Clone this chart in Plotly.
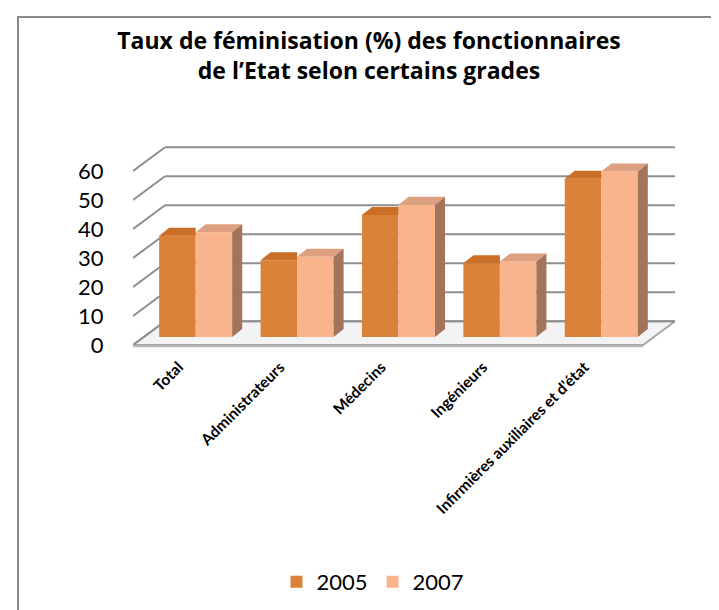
import plotly.graph_objects as go

# ---------------- data ----------------
categories = ["Total", "Administrateurs", "Médecins", "Ingénieurs",
              "Infirmières auxiliaires et d'état"]
series_names = ["2005", "2007"]
values_2005 = [34.9, 26.5, 42.1, 25.4, 54.6]
values_2007 = [36.1, 27.7, 45.6, 26.0, 57.1]
y_ticks = [0, 10, 20, 30, 40, 50, 60]
title_text = "Taux de féminisation (%) des fonctionnaires<br>de l’Etat selon certains grades"

# ---------------- style / pseudo-3D projection ----------------
FRONT = ["#DA823A", "#F9B48D"]
TOP = ["#C96F28", "#DDA080"]
SIDE = ["#A8683E", "#A37459"]
GRID = "#8E8E8E"
FONT = "Lato"
TITLE_FONT = "Open Sans"

WALL_DX, WALL_DY = 0.316, 8.2      # depth of the back wall (category units, value units)
OFF_DX, OFF_DY = 0.118, 2.76       # position of the bar fronts inside the depth
BAR_DX, BAR_DY = 0.099, 2.76       # depth of each bar
BAR_W = 0.36
LABEL_SHIFT = -0.05                # category labels sit slightly left of the bar pairs
FLOOR_X = [-0.5, 4.53]
X_RANGE = [-0.5, 4.845]
Y_RANGE = [-1.03, 71.38]

W, H = 719, 610
M_L, M_R, M_T, M_B = 125, 52, 130, 270

fig = go.Figure()

# ---------------- walls, floor and grid (drawn below the bars) ----------------
shapes = []
fx0, fx1 = FLOOR_X
floor_path = (f"M {fx0},0 L {fx1},0 L {fx1 + WALL_DX},{WALL_DY} "
              f"L {fx0 + WALL_DX},{WALL_DY} Z")
shapes.append(dict(type="path", path=floor_path, xref="x", yref="y", layer="below",
                   fillcolor="#F3F3F3", line=dict(color="#A6A6A6", width=2)))
for v in y_ticks:
    shapes.append(dict(type="line", xref="x", yref="y", layer="below",
                       x0=fx0 + WALL_DX, x1=X_RANGE[1], y0=v + WALL_DY, y1=v + WALL_DY,
                       line=dict(color=GRID, width=2)))
    shapes.append(dict(type="line", xref="x", yref="y", layer="below",
                       x0=fx0, x1=fx0 + WALL_DX, y0=v, y1=v + WALL_DY,
                       line=dict(color=GRID, width=2)))
# front edge of the floor (thickness)
shapes.append(dict(type="line", xref="x", yref="y", layer="below",
                   x0=fx0, x1=fx1, y0=-0.4, y1=-0.4,
                   line=dict(color="#B8B8B8", width=2)))

# outer chart frame
def px_to_paper_x(px):
    return (px - M_L) / (W - M_L - M_R)

def px_to_paper_y(py):
    return (H - M_B - py) / (H - M_T - M_B)

shapes.append(dict(type="rect", xref="paper", yref="paper", layer="above",
                   x0=px_to_paper_x(10), x1=px_to_paper_x(712),
                   y0=px_to_paper_y(608), y1=px_to_paper_y(9),
                   line=dict(color="#8A8A8A", width=2), fillcolor="rgba(0,0,0,0)"))

# ---------------- bars ----------------
all_values = [values_2005, values_2007]
for s, (name, vals) in enumerate(zip(series_names, all_values)):
    xs = [i + OFF_DX - BAR_W / 2 + s * BAR_W for i in range(len(categories))]
    fig.add_trace(go.Bar(
        x=xs, y=vals, base=OFF_DY, width=BAR_W, name=name,
        marker=dict(color=FRONT[s], line=dict(width=0)),
        customdata=categories,
        hovertemplate="%{customdata}<br>" + name + " : %{y}<extra></extra>",
    ))

for s, vals in enumerate(all_values):
    tx, ty, sx, sy = [], [], [], []
    for i, v in enumerate(vals):
        xl = i + OFF_DX - BAR_W + s * BAR_W
        xr = xl + BAR_W
        b = OFF_DY
        t = OFF_DY + v
        if s == 0:
            # top face clipped where the neighbouring bar hides it
            tx += [xl, xr, xr, xl + BAR_DX, xl, None]
            ty += [t, t, t + BAR_DY, t + BAR_DY, t, None]
        else:
            tx += [xl, xr, xr + BAR_DX, xl + BAR_DX, xl, None]
            ty += [t, t, t + BAR_DY, t + BAR_DY, t, None]
            sx += [xr, xr + BAR_DX, xr + BAR_DX, xr, xr, None]
            sy += [b, b + BAR_DY, t + BAR_DY, t, b, None]
    fig.add_trace(go.Scatter(x=tx, y=ty, fill="toself", fillcolor=TOP[s], mode="lines",
                             line=dict(width=0, color=TOP[s]), showlegend=False,
                             hoverinfo="skip"))
    if sx:
        fig.add_trace(go.Scatter(x=sx, y=sy, fill="toself", fillcolor=SIDE[s], mode="lines",
                                 line=dict(width=0, color=SIDE[s]), showlegend=False,
                                 hoverinfo="skip"))

fig.update_layout(
    width=W, height=H,
    margin=dict(l=M_L, r=M_R, t=M_T, b=M_B, autoexpand=False),
    paper_bgcolor="white", plot_bgcolor="white",
    barmode="overlay",
    shapes=shapes,
    font=dict(family=FONT, color="black"),
    title=dict(text=title_text, x=361 / W, xanchor="center", xref="container",
               y=1 - 41 / H, yanchor="middle", yref="container",
               font=dict(family=TITLE_FONT, size=23, color="black", weight="bold")),
    xaxis=dict(range=X_RANGE, tickvals=[i + LABEL_SHIFT for i in range(len(categories))],
               ticktext=categories,
               tickangle=-45, ticks="outside", ticklen=3, tickcolor="rgba(0,0,0,0)",
               showgrid=False, zeroline=False, showline=False, automargin=False,
               tickfont=dict(family=FONT, size=15.5, color="black", weight="bold"),
               fixedrange=True),
    yaxis=dict(range=Y_RANGE, tickvals=y_ticks, ticks="outside", ticklen=24,
               tickcolor="rgba(0,0,0,0)", showgrid=False, zeroline=False, showline=False,
               automargin=False, tickfont=dict(family=FONT, size=22, color="black"),
               fixedrange=True),
    legend=dict(orientation="h", x=px_to_paper_x(365), xanchor="center",
                y=px_to_paper_y(574), yanchor="middle",
                font=dict(family=FONT, size=22, color="black"),
                bgcolor="rgba(0,0,0,0)", itemclick=False, itemdoubleclick=False),
    showlegend=True,
)

fig.write_html("out.html")
